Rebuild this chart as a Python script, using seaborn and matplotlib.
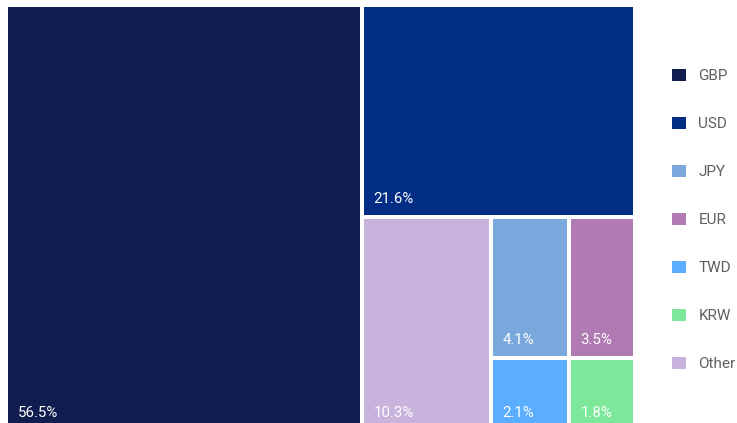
import math
import matplotlib
matplotlib.use("Agg")
import matplotlib.pyplot as plt
from matplotlib.patches import Patch
import seaborn as sns

# ---- data (legend order) ----
categories = ["GBP", "USD", "JPY", "EUR", "TWD", "KRW", "Other"]
shares = [56.5, 21.6, 4.1, 3.5, 2.1, 1.8, 10.3]
colors_hex = ["#111d4e", "#012d84", "#7aa8dd", "#b07bb2", "#5aadff", "#7ee89a", "#c8b3dd"]

sns.set_theme(style="white")
plt.rcParams["font.family"] = ["Roboto", "DejaVu Sans"]
palette = dict(zip(categories, sns.color_palette(colors_hex)))

W_PX, H_PX = 737, 423
fig = plt.figure(figsize=(W_PX / 100, H_PX / 100), dpi=100)
ax = fig.add_axes([0, 0, 1, 1])
ax.set_xlim(0, W_PX)
ax.set_ylim(H_PX, 0)
ax.axis("off")


def worst(row, fixed, ratio):
    s = sum(row)
    sq = s * s
    f = fixed * fixed * ratio
    return max(f * max(row) / sq, sq / (f * min(row)))


def squarify(values, x, y, w, h, ratio=1.2):
    total = sum(values)
    scale = w * h / total
    areas = [v * scale for v in values]
    rects = []
    i = 0
    while i < len(areas):
        short = min(w, h)
        row, best = [], float("inf")
        while i < len(areas):
            cand = row + [areas[i]]
            wv = worst(cand, short, ratio)
            if wv <= best:
                row, best = cand, wv
                i += 1
            else:
                break
        thick = sum(row) / short
        if w >= h:
            yy = y
            for a in row:
                hh = a / thick
                rects.append((x, yy, thick, hh))
                yy += hh
            x += thick
            w -= thick
        else:
            xx = x
            for a in row:
                ww = a / thick
                rects.append((xx, y, ww, thick))
                xx += ww
            y += thick
            h -= thick
    return rects


order = sorted(range(len(shares)), key=lambda k: -shares[k])
vals_sorted = [shares[k] for k in order]
rects = squarify(vals_sorted, 6, 5, 629.5, 426)

gap = 2.0
lefts, tops, widths, heights, cols = [], [], [], [], []
for k, (rx, ry, rw, rh) in zip(order, rects):
    lefts.append(rx + gap)
    tops.append(ry + gap)
    widths.append(rw - 2 * gap)
    heights.append(rh - 2 * gap)
    cols.append(palette[categories[k]])

ax.bar(lefts, heights, width=widths, bottom=tops, align="edge", color=cols,
       linewidth=0)

for k, l, t, h in zip(order, lefts, tops, heights):
    ax.text(l + 9.5, t + h - 12, f"{shares[k]}%", color="white",
            fontsize=10.8, ha="left", va="baseline")

handles = [Patch(facecolor=palette[c], edgecolor="none", label=c) for c in categories]
leg = fig.legend(handles=handles, loc="upper left",
                 bbox_to_anchor=(672 / W_PX, 1 - 68.5 / H_PX),
                 frameon=False, fontsize=11, handlelength=0.92, handleheight=0.92,
                 handletextpad=0.8, labelspacing=2.18, borderpad=0, borderaxespad=0)
for txt in leg.get_texts():
    txt.set_color("#5f5f5f")

fig.savefig("out.png", dpi=100)
